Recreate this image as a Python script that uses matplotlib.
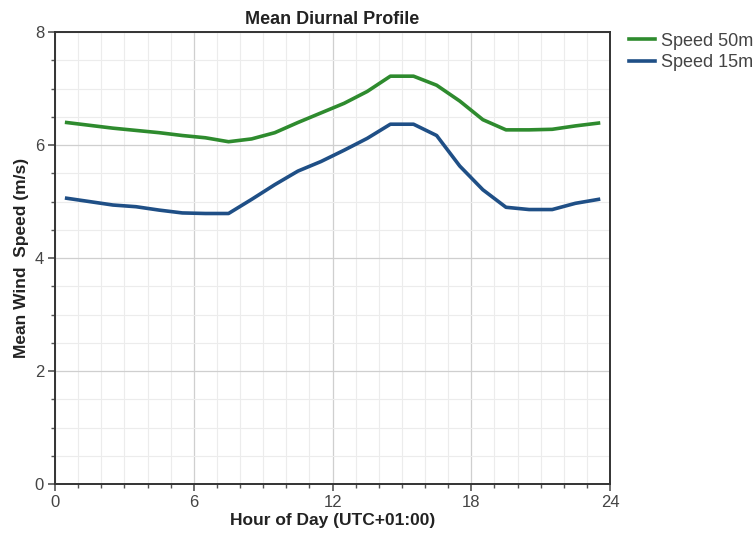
import matplotlib.pyplot as plt
import numpy as np

# data
hours = np.arange(0.5, 24, 1.0)
speed_50m = [6.40, 6.35, 6.30, 6.26, 6.22, 6.17, 6.13, 6.06, 6.11, 6.22, 6.40, 6.57,
             6.74, 6.95, 7.22, 7.22, 7.06, 6.78, 6.45, 6.27, 6.27, 6.28, 6.34, 6.39]
speed_15m = [5.06, 5.00, 4.94, 4.91, 4.85, 4.80, 4.79, 4.79, 5.04, 5.30, 5.54, 5.71,
             5.91, 6.12, 6.37, 6.37, 6.17, 5.63, 5.21, 4.90, 4.86, 4.86, 4.97, 5.04]
series_names = ['Speed 50m', 'Speed 15m']
x_ticks = [0, 6, 12, 18, 24]
y_ticks = [0, 2, 4, 6, 8]

plt.rcParams['font.family'] = ['Liberation Sans', 'DejaVu Sans']

fig = plt.figure(figsize=(7.55, 5.35), dpi=100)
ax = fig.add_axes([0.073, 0.095, 0.735, 0.845])

ax.plot(hours, speed_50m, color='#2e8b2e', lw=2.6, label=series_names[0])
ax.plot(hours, speed_15m, color='#1f4f86', lw=2.6, label=series_names[1])

ax.set_xlim(0, 24)
ax.set_ylim(0, 8)
ax.set_xticks(x_ticks)
ax.set_yticks(y_ticks)
ax.set_xticks(np.arange(0, 24.01, 1), minor=True)
ax.set_yticks(np.arange(0, 8.01, 0.5), minor=True)

# grid
ax.grid(which='major', color='#cfcfcf', lw=0.9)
ax.grid(which='minor', color='#ececec', lw=0.8)
ax.set_axisbelow(True)

for s in ax.spines.values():
    s.set_color('#333333')
    s.set_linewidth(1.4)

ax.tick_params(which='major', length=5, width=1.2, color='#555555',
               labelsize=12, labelcolor='#444444', pad=3)
ax.tick_params(which='minor', length=3, width=1.0, color='#555555')

ax.set_title('Mean Diurnal Profile', fontsize=13, fontweight='bold',
             color='#222222', pad=6)
ax.set_xlabel('Hour of Day (UTC+01:00)', fontsize=12.5, fontweight='bold',
              color='#222222', labelpad=2)
ax.set_ylabel('Mean Wind  Speed (m/s)', fontsize=12.5, fontweight='bold',
              color='#222222', labelpad=4)

ax.legend(loc='upper left', bbox_to_anchor=(1.022, 1.015), frameon=False,
          fontsize=13, handlelength=1.4, handletextpad=0.35,
          labelspacing=0.25, labelcolor='#444444', borderaxespad=0)

fig.savefig('out.png', dpi=100)
